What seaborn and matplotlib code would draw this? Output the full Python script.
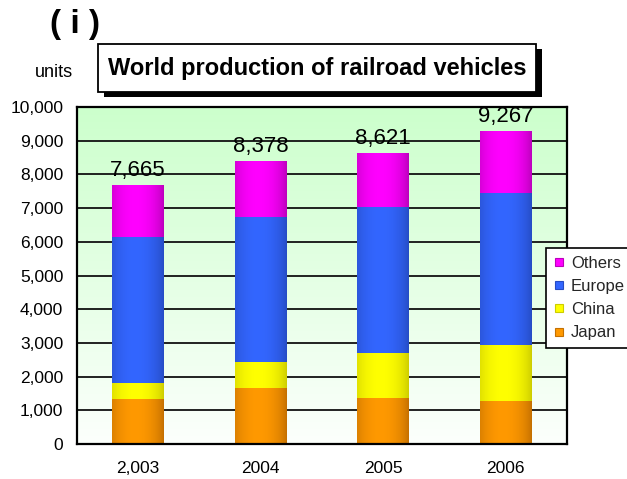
import numpy as np
import pandas as pd
import matplotlib
matplotlib.use("Agg")
import matplotlib.pyplot as plt
import seaborn as sns
from matplotlib.patches import Rectangle
from matplotlib.lines import Line2D
from matplotlib.ticker import FuncFormatter, FixedLocator

# ---- data (units of railroad vehicles) ----
years = ["2,003", "2004", "2005", "2006"]
japan = [1310, 1640, 1340, 1250]
china = [476, 770, 1340, 1676]
europe = [4345, 4315, 4345, 4494]
totals = [7665, 8378, 8621, 9267]
others = [t - j - c - e for t, j, c, e in zip(totals, japan, china, europe)]

series = ["Japan", "China", "Europe", "Others"]
values = {"Japan": japan, "China": china, "Europe": europe, "Others": others}

# centre / edge colours of the shaded bar faces
shades = {
    "Japan": ((255, 153, 0), (196, 112, 0)),
    "China": ((255, 255, 0), (205, 205, 0)),
    "Europe": ((51, 102, 255), (38, 76, 196)),
    "Others": ((255, 0, 255), (188, 0, 188)),
}

sns.set_style("white")
plt.rcParams["font.family"] = ["Liberation Sans", "DejaVu Sans"]

W, H = 627, 479
fig = plt.figure(figsize=(W / 100, H / 100), dpi=100)
ax = fig.add_axes([76.5 / W, 1 - 444 / H, (567 - 76.5) / W, (444 - 107) / H])

df = pd.DataFrame({"year": years, **values})
cum = df[series].cumsum(axis=1)
df_cum = pd.concat([df[["year"]], cum], axis=1)

# horizontal shading profile across a bar
t = np.linspace(0, 1, 64)
prof = np.clip(1 - ((t - 0.45) / 0.55) ** 2, 0, 1) ** 0.8


def shade_image(name):
    c, e = (np.array(v) / 255 for v in shades[name])
    img = e[None, :] + (c - e)[None, :] * prof[:, None]
    return img[None, :, :]


# stacked bars: draw cumulative totals from the top layer down
for k, name in enumerate(reversed(series)):
    z = 2 + k
    sns.barplot(data=df_cum, x="year", y=name, order=years, color=np.array(shades[name][0]) / 255,
                saturation=1, width=0.42, errorbar=None, edgecolor="none", zorder=z, ax=ax)
    img = shade_image(name)
    for p in ax.containers[-1].patches:
        x0, y0, w, h = p.get_x(), p.get_y(), p.get_width(), p.get_height()
        ax.imshow(img, extent=(x0, x0 + w, y0, y0 + h), aspect="auto", zorder=z + 0.5,
                  interpolation="bilinear")

# pale green plot-area background
grad = np.linspace(0, 1, 256)[:, None]
top_c = np.array([204, 255, 204]) / 255
bot_c = np.array([252, 255, 252]) / 255
bg = top_c[None, None, :] * (1 - grad[:, :, None]) + bot_c[None, None, :] * grad[:, :, None]
ax.imshow(bg, extent=(0, 1, 0, 1), transform=ax.transAxes, aspect="auto", zorder=0)

ax.set_xlim(-0.5, 3.5)
ax.set_ylim(0, 10000)
ax.set_xlabel("")
ax.set_ylabel("")

ax.set_yticks(np.arange(0, 10001, 1000))
ax.yaxis.set_major_formatter(FuncFormatter(lambda v, _: f"{int(v):,}"))
ax.yaxis.grid(True, color="#111111", linewidth=1.3)
ax.xaxis.grid(False)
ax.set_axisbelow(True)
ax.tick_params(axis="y", length=0, pad=9.5, labelsize=12.5, colors="black")
ax.tick_params(axis="x", which="major", length=0, pad=12, labelsize=12.5, colors="black")
ax.xaxis.set_minor_locator(FixedLocator([0.5, 1.5, 2.5]))
ax.tick_params(axis="x", which="minor", direction="in", length=3.5, width=1.2, color="black")

for s in ax.spines.values():
    s.set_color("black")
    s.set_linewidth(1.6)
    s.set_zorder(20)

# total labels above each bar
for i, tot in enumerate(totals):
    ax.annotate(f"{tot:,}", xy=(i, tot), xytext=(0, 7), textcoords="offset points",
                ha="center", va="baseline", fontsize=16, color="black", zorder=30,
                annotation_clip=False)

# legend
handles = [Line2D([], [], marker="s", linestyle="none", markersize=5.5,
                  markerfacecolor=np.array(shades[n][0]) / 255,
                  markeredgecolor=np.array(shades[n][1]) / 255, markeredgewidth=0.8)
           for n in reversed(series)]
leg = ax.legend(handles, list(reversed(series)), loc="upper left",
                bbox_to_anchor=((546 - 76.5) / (567 - 76.5), (444 - 248) / (444 - 107)),
                borderaxespad=0, fontsize=12, frameon=True, fancybox=False,
                framealpha=1, edgecolor="black", handlelength=0.6, handletextpad=0.45,
                labelspacing=0.5, borderpad=0.45)
leg.get_frame().set_linewidth(1.2)
leg.set_zorder(40)

# title box with drop shadow
def px_rect(x0, y0, x1, y1, **kw):
    return Rectangle((x0 / W, 1 - y1 / H), (x1 - x0) / W, (y1 - y0) / H,
                     transform=fig.transFigure, **kw)

fig.patches.append(px_rect(104, 49, 542, 97, facecolor="black", edgecolor="none", zorder=1))
fig.patches.append(px_rect(98, 44, 536, 92, facecolor="white", edgecolor="black",
                           linewidth=1.3, zorder=2))
fig.text(317 / W, 1 - 68 / H, "World production of railroad vehicles", ha="center",
         va="center", fontsize=17, fontweight="bold", color="black", zorder=3)

fig.text(75 / W, 1 - 25 / H, "( i )", ha="center", va="center", fontsize=24,
         fontweight="bold", color="black")
fig.text(35 / W, 1 - 77 / H, "units", ha="left", va="baseline", fontsize=13, color="black")

fig.savefig("out.png", dpi=100)
